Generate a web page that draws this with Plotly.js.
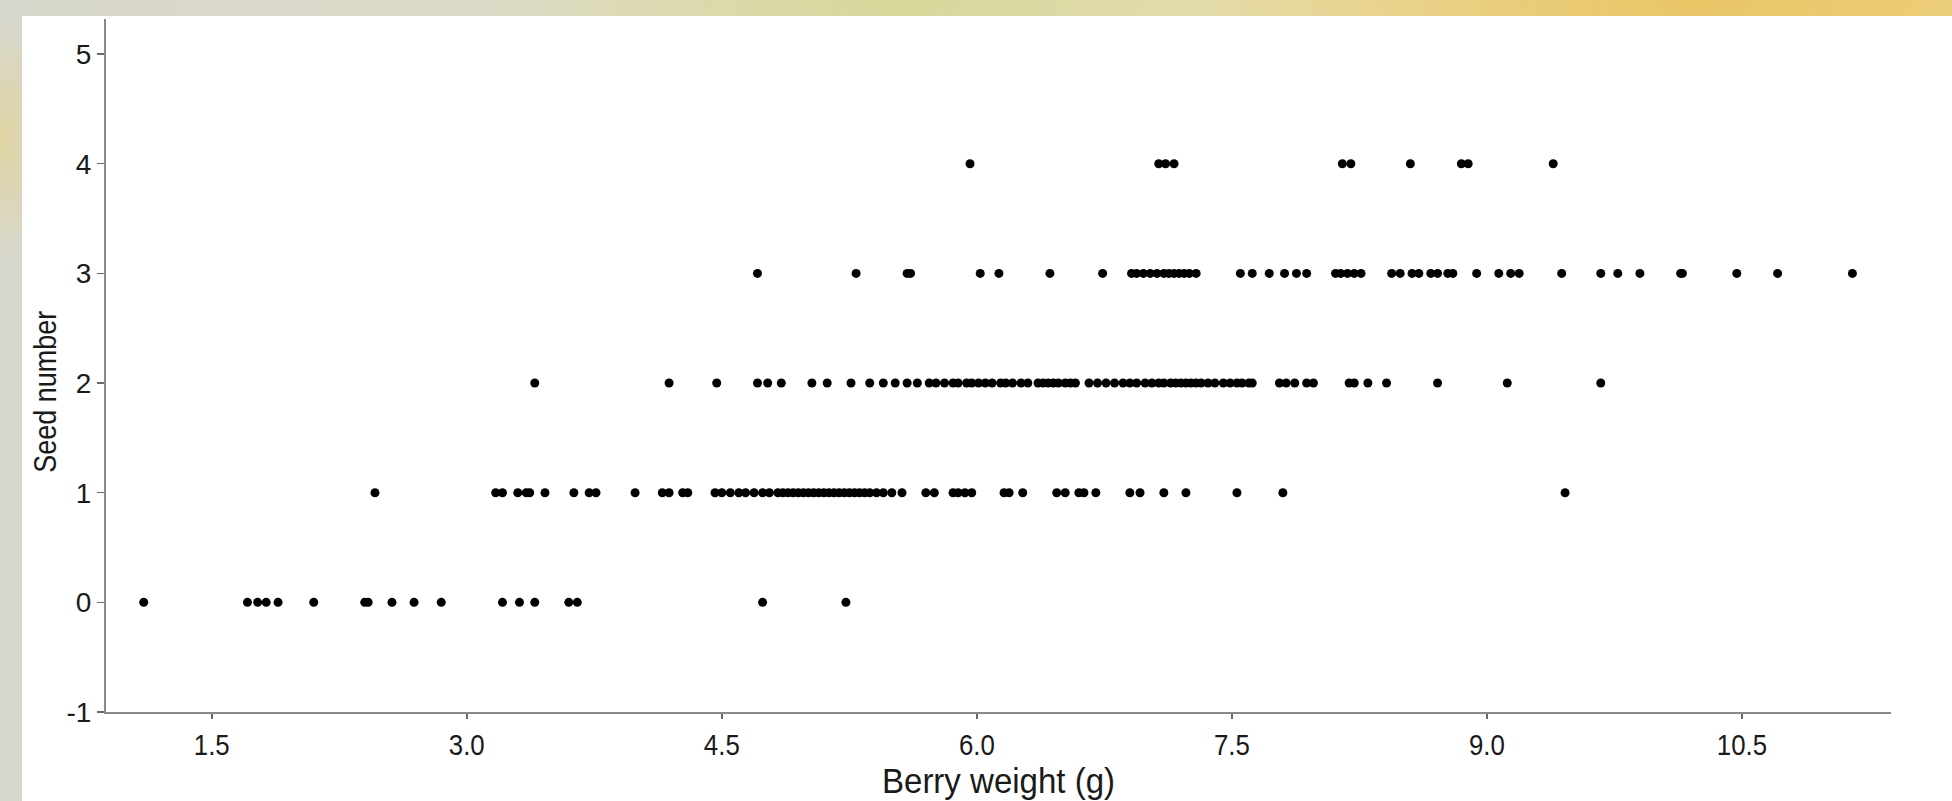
<!DOCTYPE html>
<html>
<head>
<meta charset="utf-8">
<script src="https://cdn.plot.ly/plotly-3.0.1.min.js"></script>
<style>
  html, body { margin: 0; padding: 0; width: 1952px; height: 801px; overflow: hidden; }
  body {
    background:
      radial-gradient(ellipse 500px 200px at 1700px 0px, rgba(232,196,96,0.9), rgba(232,196,96,0) 100%),
      radial-gradient(ellipse 400px 150px at 900px 0px, rgba(214,214,150,0.9), rgba(214,214,150,0) 100%),
      radial-gradient(ellipse 60px 120px at 0px 140px, rgba(226,214,160,0.9), rgba(226,214,160,0) 100%),
      linear-gradient(90deg, #d7d6cc 0%, #dcdac6 25%, #e2dfb8 50%, #ead9a0 75%, #efd48a 100%);
  }
  #panel { position: absolute; left: 22px; top: 16px; right: 0; bottom: 0; background: #ffffff; }
  #chart { position: absolute; left: 0; top: 0; width: 1952px; height: 801px; }
</style>
</head>
<body>
<div id="panel"></div>
<div id="chart"></div>
<script>
// Berry weight (g) values for each seed-number group
const weightSeed0 = [1.10, 1.71, 1.77, 1.82, 1.89, 2.10, 2.40, 2.42, 2.56, 2.69, 2.85, 3.21, 3.31, 3.40, 3.60, 3.65, 4.74, 5.23];
const weightSeed1 = [2.46, 3.17, 3.21, 3.30, 3.35, 3.37, 3.46, 3.63, 3.72, 3.76, 3.99, 4.15, 4.19, 4.27, 4.30,
  4.46, 4.50, 4.55, 4.60, 4.64, 4.69, 4.74, 4.78, 4.83, 4.86, 4.89, 4.92, 4.95, 4.98, 5.01, 5.04, 5.07, 5.10,
  5.13, 5.16, 5.19, 5.22, 5.25, 5.28, 5.31, 5.34, 5.37, 5.41, 5.45, 5.50, 5.56,
  5.70, 5.75, 5.86, 5.89, 5.93, 5.97, 6.16, 6.19, 6.27, 6.47, 6.52, 6.60, 6.63, 6.70, 6.90, 6.96, 7.10, 7.23, 7.53, 7.80, 9.46];
const weightSeed2 = [3.40, 4.19, 4.47, 4.71, 4.77, 4.85, 5.03, 5.12, 5.26, 5.37, 5.45, 5.52, 5.59, 5.65, 5.72, 5.76,
  5.81, 5.86, 5.89, 5.94, 5.97, 6.01, 6.05, 6.09, 6.14, 6.17, 6.21, 6.26, 6.30, 6.36, 6.39, 6.42, 6.45, 6.48,
  6.52, 6.55, 6.58, 6.66, 6.71, 6.76, 6.81, 6.86, 6.90, 6.94, 6.99, 7.03, 7.07, 7.10, 7.14, 7.17, 7.20, 7.23,
  7.26, 7.29, 7.32, 7.36, 7.40, 7.45, 7.49, 7.53, 7.56, 7.60, 7.62, 7.78, 7.82, 7.87, 7.94, 7.98, 8.19, 8.22,
  8.30, 8.41, 8.71, 9.12, 9.67];
const weightSeed3 = [4.71, 5.29, 5.59, 5.61, 6.02, 6.13, 6.43, 6.74, 6.91, 6.94, 6.98, 7.02, 7.06, 7.10, 7.13,
  7.16, 7.19, 7.22, 7.25, 7.29, 7.55, 7.62, 7.72, 7.81, 7.88, 7.94, 8.11, 8.14, 8.18, 8.22, 8.26, 8.44, 8.49,
  8.56, 8.60, 8.67, 8.71, 8.77, 8.80, 8.94, 9.07, 9.14, 9.19, 9.44, 9.67, 9.77, 9.90, 10.14, 10.15, 10.47, 10.71, 11.15];
const weightSeed4 = [5.96, 7.07, 7.11, 7.16, 8.15, 8.20, 8.55, 8.85, 8.89, 9.39];

const seedGroups = [0, 1, 2, 3, 4];
const weightsByGroup = [weightSeed0, weightSeed1, weightSeed2, weightSeed3, weightSeed4];

const xTickVals = [1.5, 3.0, 4.5, 6.0, 7.5, 9.0, 10.5];
const xTickText = ['1.5', '3.0', '4.5', '6.0', '7.5', '9.0', '10.5'];
const yTickVals = [-1, 0, 1, 2, 3, 4, 5];
const yTickText = ['-1', '0', '1', '2', '3', '4', '5'];

const xTitle = 'Berry weight (g)';
const yTitle = 'Seed number';

const xs = [], ys = [];
weightsByGroup.forEach((arr, i) => { arr.forEach(w => { xs.push(w); ys.push(seedGroups[i]); }); });

const font = '"Liberation Sans", Arial, sans-serif';

const trace = {
  type: 'scatter', mode: 'markers', x: xs, y: ys,
  marker: { color: '#000000', size: 9, line: { width: 0 } },
  hoverinfo: 'x+y', showlegend: false
};

const layout = {
  width: 1952, height: 801,
  margin: { l: 106, r: 61, t: 19, b: 89 },
  paper_bgcolor: 'rgba(0,0,0,0)',
  plot_bgcolor: 'rgba(0,0,0,0)',
  xaxis: {
    range: [0.878, 11.377], showgrid: false, zeroline: false,
    showline: true, linecolor: '#8a8a8a', linewidth: 2,
    ticks: 'outside', ticklen: 5, tickwidth: 1.5, tickcolor: '#6a6a6a',
    tickmode: 'array', tickvals: xTickVals, ticktext: xTickText,
    tickfont: { family: font, size: 30, color: '#1a1a1a' },
    title: { text: xTitle, font: { family: font, size: 35, color: '#1a1a1a' }, standoff: 2 }
  },
  yaxis: {
    range: [-1, 5.32], showgrid: false, zeroline: false,
    showline: true, linecolor: '#8a8a8a', linewidth: 2,
    ticks: 'outside', ticklen: 7, tickwidth: 1.5, tickcolor: '#6a6a6a',
    tickmode: 'array', tickvals: yTickVals, ticktext: yTickText,
    tickfont: { family: font, size: 28, color: '#1a1a1a' }
  },
  annotations: [{
    text: yTitle, xref: 'paper', yref: 'y', x: 0, y: 1.92,
    xanchor: 'center', yanchor: 'middle', xshift: -61, textangle: -90,
    showarrow: false, font: { family: font, size: 32, color: '#1a1a1a' }
  }]
};

function condense(el, factor, fixedLen) {
  const L = el.getComputedTextLength();
  const target = fixedLen ? fixedLen : L * factor;
  el.setAttribute('textLength', target.toFixed(1));
  el.setAttribute('lengthAdjust', 'spacingAndGlyphs');
}

Plotly.newPlot('chart', [trace], layout, { displayModeBar: false, staticPlot: true }).then(gd => {
  gd.querySelectorAll('.xtick text').forEach(t => condense(t, 0.86));
  gd.querySelectorAll('.g-xtitle text').forEach(t => condense(t, 0, 233));
  gd.querySelectorAll('.annotation-text').forEach(t => condense(t, 0, 162));
});
</script>
</body>
</html>
